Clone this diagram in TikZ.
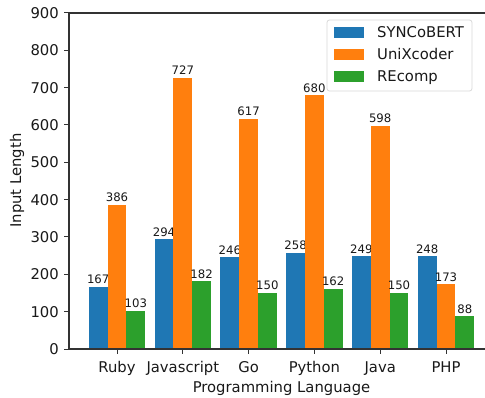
\documentclass[tikz,border=0pt]{standalone}
\usepackage{fontspec}
\setmainfont{DejaVu Sans}
\definecolor{cblue}{HTML}{1F77B4}
\definecolor{corange}{HTML}{FF7F0E}
\definecolor{cgreen}{HTML}{2CA02C}
\begin{document}
\begin{tikzpicture}[x=1pt,y=-1pt,
  ticklab/.style={font=\fontsize{14.8}{17}\selectfont, inner sep=0pt, text=black!90},
  annot/.style={font=\fontsize{11.7}{14}\selectfont, inner sep=0pt, anchor=base, text=black!90},
  axline/.style={line width=1.1pt, draw=black!80},
  tickline/.style={line width=1pt, draw=black!80},
  legbox/.style={draw=black!15, line width=0.8pt, rounded corners=2.5pt, fill=white}]
\useasboundingbox (0,0) rectangle (485,398);
\fill[white] (0,0) rectangle (485,398);
% bars
\foreach \v [count=\i from 0] in {167,294,246,258,249,248} {
  \fill[cblue] ({117+65.8*\i-28.2},349) rectangle ({117+65.8*\i-9.4},{349-0.37333*\v});
  \node[annot] (sa\i) at ({117+65.8*\i-18.8},{349-0.37333*\v-3}) {\v};
}
\foreach \v [count=\i from 0] in {386,727,617,680,598,173} {
  \fill[corange] ({117+65.8*\i-9.4},349) rectangle ({117+65.8*\i+9.4},{349-0.37333*\v});
  \node[annot] (ua\i) at ({117+65.8*\i},{349-0.37333*\v-3}) {\v};
}
\foreach \v [count=\i from 0] in {103,182,150,162,150,88} {
  \fill[cgreen] ({117+65.8*\i+9.4},349) rectangle ({117+65.8*\i+28.2},{349-0.37333*\v});
  \node[annot] (ra\i) at ({117+65.8*\i+18.8},{349-0.37333*\v-3}) {\v};
}
% axes
\coordinate (tl) at (69,13);
\coordinate (bl) at (69,349);
\coordinate (tr) at (485,13);
\coordinate (br) at (485,349);
\draw[axline] (tl) -- (bl);
\draw[axline] (tl) -- (tr);
\draw[axline] (bl) -- (br);
% y ticks
\foreach \t in {0,100,...,900} {
  \draw[tickline] (64,{349-0.37333*\t}) -- (69,{349-0.37333*\t});
  \node[ticklab, anchor=east] (yt\t) at (59,{349-0.37333*\t}) {\t};
}
% x ticks
\foreach \n [count=\i from 0] in {Ruby,Javascript,Go,Python,Java,PHP} {
  \draw[tickline] ({117+65.8*\i},349) -- ({117+65.8*\i},354);
  \node[ticklab, anchor=base] (xt\i) at ({117+65.8*\i},372) {\n};
}
% axis labels
\node[ticklab, anchor=base] (xlabel) at (281.5,392) {Programming Language};
\node[ticklab, anchor=base, rotate=90] (ylabel) at (21,180.5) {Input Length};
% legend
\draw[legbox] (327,20) rectangle (472,91);
\fill[cblue] (334,27) rectangle (364,38);
\fill[corange] (334,49) rectangle (364,60);
\fill[cgreen] (334,71) rectangle (364,82);
\node[ticklab, anchor=base west] (l1) at (377,38) {SYNCoBERT};
\node[ticklab, anchor=base west] (l2) at (377,60) {UniXcoder};
\node[ticklab, anchor=base west] (l3) at (377,82) {REcomp};
\end{tikzpicture}
\end{document}
